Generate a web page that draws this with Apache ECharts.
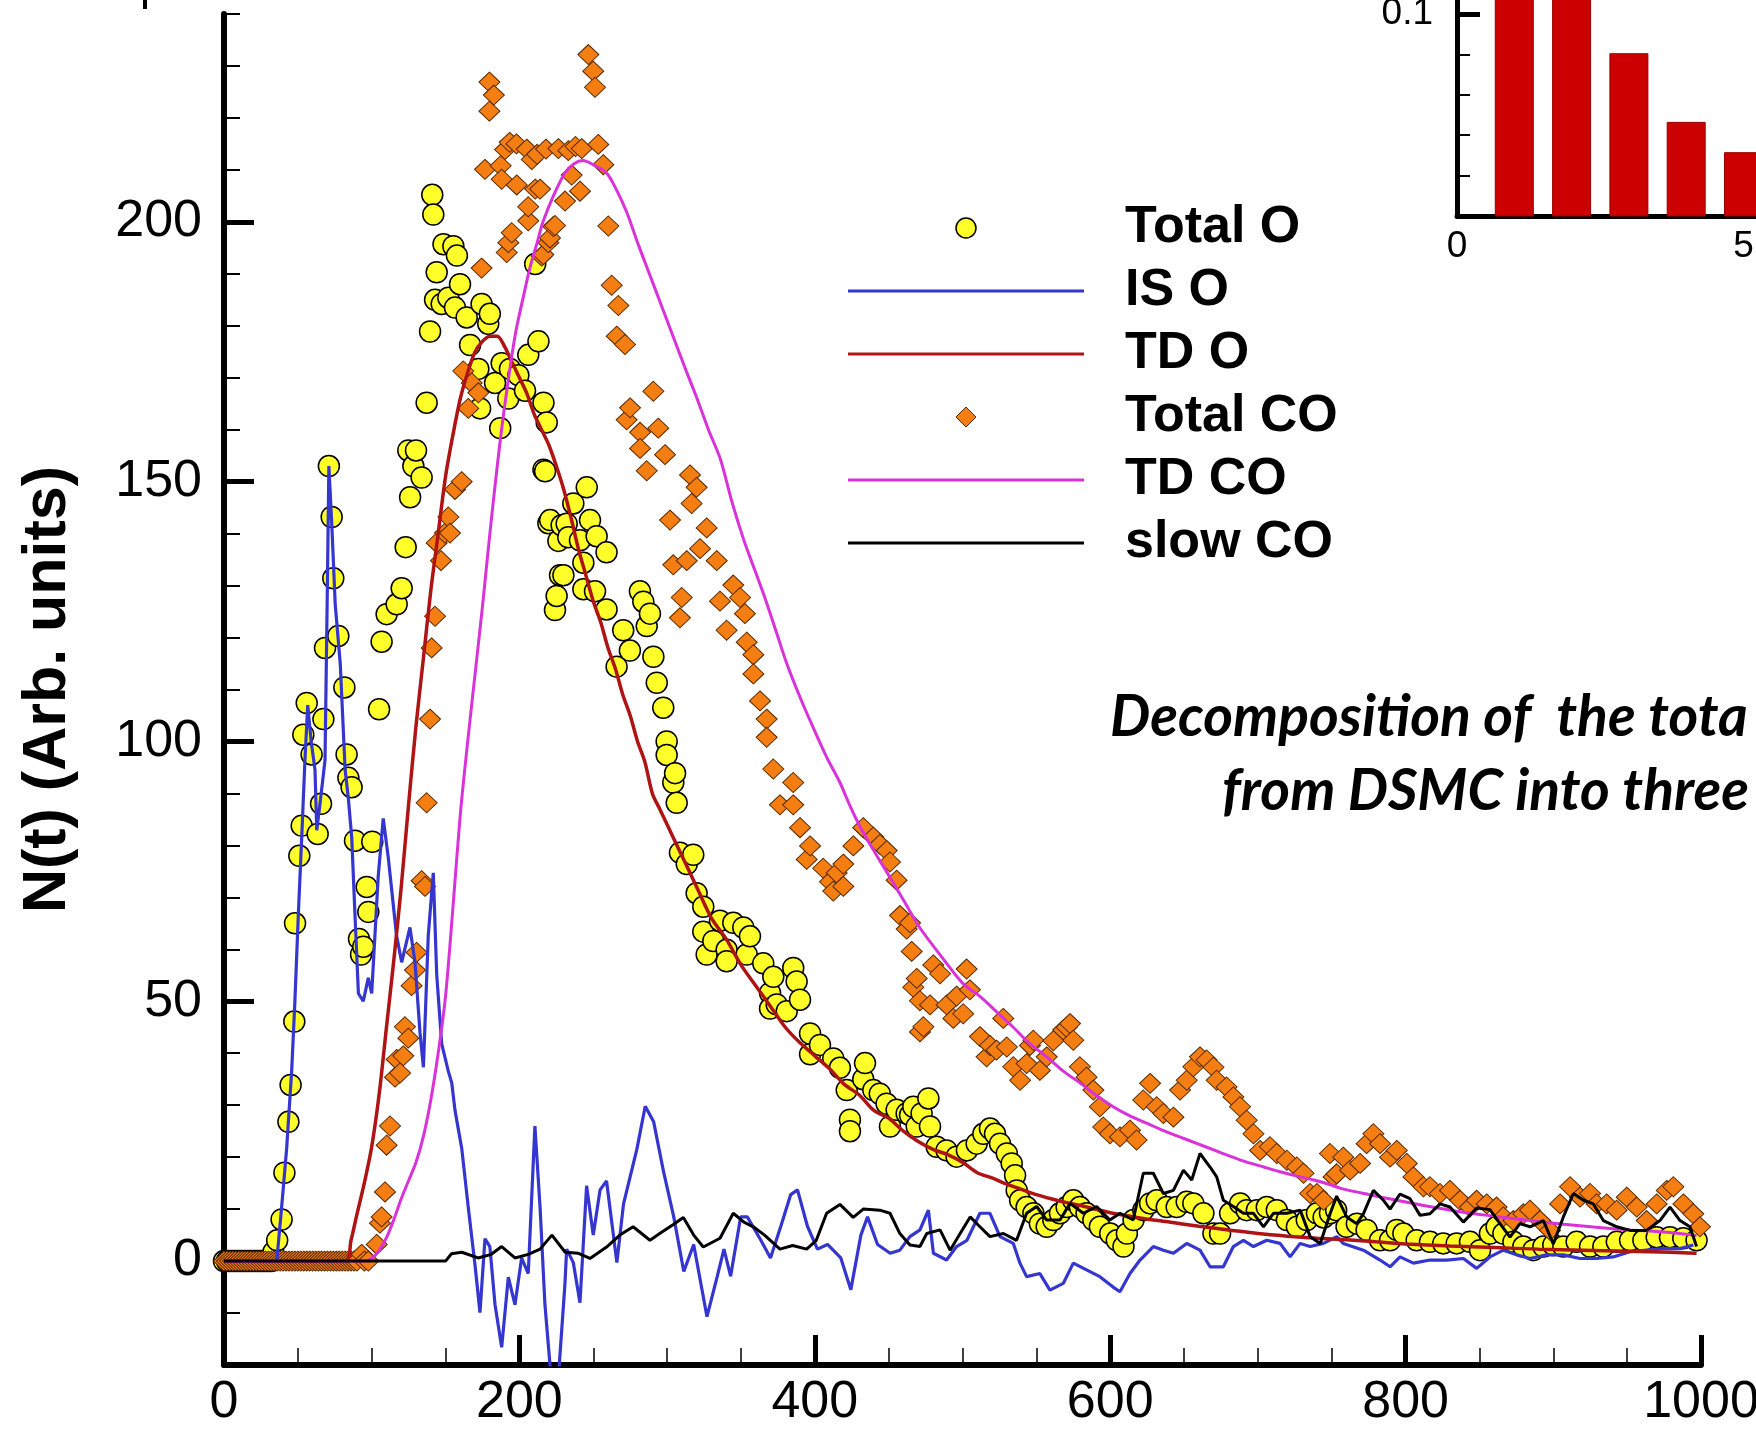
<!DOCTYPE html>
<html>
<head>
<meta charset="utf-8">
<script src="https://cdn.jsdelivr.net/npm/echarts@6/dist/echarts.min.js"></script>
<style>
html,body{margin:0;padding:0;background:#fff;}
#chart{width:1756px;height:1429px;}
</style>
</head>
<body>
<div id="chart"></div>
<script>
// ---------- tick values ----------
var xMajorTicks = [0, 200, 400, 600, 800, 1000];
var yMajorTicks = [0, 50, 100, 150, 200];
var insetYLabels = [0.1];
var legendNames = ['Total O', 'IS O', 'TD O', 'Total CO', 'TD CO', 'slow CO'];

// ---------- Total O (yellow circles) ----------
var totalO = [
[0,0],[2,0],[4,0],[6,0],[8,0],[10,0],[12,0],[14,0],[16,0],[18,0],[20,0],[22,0],[24,0],[26,0],[28,0],[30,0],[32,0],
[33.4,1.7],[36,4],[39,8],[40.9,17],[43.6,26.8],[45.1,33.9],[47.6,46.1],[48.1,65],[51,78],[52.6,83.8],[53.7,101.3],
[56,107.4],[59.3,97.5],[63.4,82.2],[65.7,88],[67.3,104.3],[68.4,118],[71,153],[72.9,143.2],[74,131.4],[77.4,120.3],
[81.5,110.4],[83,97.5],[84.2,93],[86.4,91.2],[88.7,80.9],[91.4,62],[92.8,59],[94.3,60.5],[96.6,72],[97.7,67.2],
[100.4,80.7],[105,106.2],[106.7,119.2],[110.1,124.5],[116.9,126.4],[120.3,129.5],[123,137.4],[124.8,156],[126,147],
[128.2,153],[130,156],[133.8,150.8],[137.2,165.2],[139.5,178.9],[141,205.2],[141.7,201.4],[142.9,185],[144,190.3],
[147.4,184.2],[148.6,195.7],[151.9,185.4],[155.3,195.3],[156.4,183.5],[157.7,193.5],[159.8,188],[164.3,181.6],
[166.6,176.3],[172.2,171.7],[173.4,164.1],[174.4,184.2],[178.9,180.4],[180,182.3],[183.5,169],[187,160.3],[188,172.8],
[192.5,166],[193.6,171.7],[199.3,170.5],[203.8,167.5],[206,174.4],[210.7,191.9],[212.9,177],[216.3,165.2],[216.3,152.3],
[217.4,152],[218.5,161.4],[219.6,142],[220.8,142.6],[224.1,125.3],[225.2,128],[226.4,138.6],[227.5,132],[228.6,141.6],
[229.8,132],[232,141.9],[233.1,139.3],[236.5,145.8],[241,138.7],[243.3,134.4],[243.3,129.3],[245.6,148.9],[247.8,142.6],
[251.2,128.9],[252.3,139.5],[259,136.4],[259,125.4],[265.8,114.4],[270.3,121.4],[274.8,117.5],[281.6,128.9],[283.9,126.9],
[286.2,122.2],[288.4,124.6],[290.7,116.3],[293,111.3],[297.4,106.5],[299.7,100],[299.7,97.4],[304.2,92.1],[305.4,93.9],
[306.5,88.2],[308.7,78.6],[313.3,76.4],[317.7,78.2],[320,70.8],[324.5,68.2],[324.5,63.4],[326.8,59],[331.3,61.6],
[335.8,65.5],[340.3,59.9],[340.3,57.7],[344.8,65.1],[351.6,64.2],[353.9,59],[356.1,62.5],[365.1,57.3],[369.7,51.6],
[369.7,48.6],[371.9,54.7],[374.2,49.4],[381,48.1],[385.4,56.4],[387.7,53.8],[390,50.3],[396.8,43.8],[396.8,39.8],
[403.5,41.6],[412.5,39],[417,37.2],[421.6,32.9],[423.8,27.2],[423.8,25],[432.8,35],[434,38.1],[439.6,32.9],[444,32.2],
[448.6,30.3],[450.9,25.9],[455.4,29.1],[462.2,28.4],[464.5,28.1],[466.7,29.7],[469,25.9],[472.3,28.4],[476.9,31.3],
[478,25.9],[482.5,22],[489.2,21.3],[496,20.1],[503,21.3],[509.6,22.6],[514.1,24.5],[518.6,25.5],[522,24.5],[525.4,22.6],
[530,20.7],[533.3,18.8],[535.6,16.5],[536.7,13.6],[539,11.7],[543.4,10.4],[548,9.2],[552.4,7.2],[557,6.6],[561.5,7.9],
[566,9.2],[570.5,10.4],[575,11.7],[579.5,10.4],[584,9.2],[588.6,7.9],[593,6.6],[600,5.3],[604.5,4],[609,2.8],[611.3,5.3],
[615.8,7.9],[622.4,9.8],[627,11.1],[631.5,11.7],[638.3,10.4],[645,10.4],[651.8,11.4],[656.3,11.1],[663.1,9.2],[669.9,5.3],
[674.4,5.3],[681.2,9.2],[688,11.1],[692.4,9.8],[699.3,9.8],[706,10.4],[712.8,9.8],[719.6,7.9],[726.4,6.6],[733.1,7.9],
[740,9.2],[744.5,8.4],[748.8,9.2],[753,9.8],[760,6.6],[767,7.2],[773.6,6],[782.7,4],[789.5,4],[794,6],[798.5,5.3],
[807.5,4],[816.5,3.7],[825.5,3.4],[834.6,3.4],[843.6,3.7],[850.4,2.1],[857.1,5.3],[861.6,6.6],[866.2,5.3],[873,3.7],
[879.7,2.8],[886.5,2.1],[893.3,2.8],[900,3.1],[906.8,2.8],[915.8,3.7],[924.9,2.8],[933.9,2.8],[943,3.7],[952,4],[961,4],
[970,4.6],[979,4.6],[988,4.4],[997,4]
];

// ---------- Total CO (orange diamonds) ----------
var totalCO = [
[0,0],[2,0],[4,0],[6,0],[8,0],[10,0],[12,0],[14,0],[16,0],[18,0],[20,0],[22,0],[24,0],[26,0],[28,0],[30,0],[32,0],
[34,0],[36,0],[38,0],[40,0],[42,0],[44,0],[46,0],[48,0],[50,0],[52,0],[54,0],[56,0],[58,0],[60,0],[62,0],[64,0],[66,0],
[68,0],[70,0],[72,0],[74,0],[76,0],[78,0],[80,0],[82,0],[84,0],[86,0],[88,0],[90,0],[93.2,1.3],[95,0],[97.7,0],
[103.4,3.2],[105.6,7.3],[106.7,8.5],[109,13.3],[110.1,22.3],[112.4,26],[115.8,35.4],[116.9,38.8],[119.2,36.2],[121.4,39.5],
[122.5,45.1],[124.8,42.9],[127,53],[129.3,56],[130.4,59.4],[133.8,73.2],[136.1,72.1],[137.2,88.2],[139.5,104.3],[140.6,118],
[142.9,124.1],[144,138.2],[146.9,134.8],[149.6,140.1],[151.9,143.2],[153,140.1],[156.4,148.5],[160.9,150],[162,171.3],
[165.4,164.1],[167.7,169],[172.2,167.1],[174.4,191.1],[176.7,210.1],[179.7,226.9],[179.7,221.3],[182.7,224.4],[187.3,210.8],
[188,208.2],[190.3,213.9],[191.4,194.1],[192.5,196],[193.4,215.3],[194.8,197.9],[198.2,207.1],[198,215],[205,214],[206,200.2],
[206,202.9],[208.4,212],[210.7,206.3],[212,213],[214,206.3],[215.1,193.4],[216.2,193.7],[218,214],[219.6,196],[220.7,196.9],
[223,199.1],[224.1,199.3],[226.4,214.1],[230.9,204],[233.1,213.7],[235.4,209],[238,214.5],[241,205.9],[242.2,214.1],
[246.7,232.2],[250,229],[251.2,225.9],[253.4,214.9],[256.8,211],[260.2,199.2],[262.5,187.8],[265.9,178],[267,183.9],
[271.5,176.4],[272.6,161.9],[274.9,164.2],[281.7,159.5],[281.7,156.4],[286.2,152.1],[290.7,167.4],[294,160.3],[298.6,155.2],
[302,142.6],[304.2,134],[308.7,123.8],[309.9,127.7],[313.3,134.8],[315.5,151.3],[316.6,145.8],[320,148.9],[322.3,137.1],
[326.8,141.1],[333.6,134.8],[335.8,127],[340.3,121.4],[344.8,130.1],[349.4,127.7],[352.7,124.6],[353.9,119.1],[358.4,116.7],
[358.4,113],[362.9,107.8],[367.4,104.3],[367.4,100.8],[371.9,94.7],[376.4,87.8],[385.4,92.1],[385.4,87.8],[390,83.4],
[394.5,77.3],[396.8,79.9],[405.7,75.6],[410.3,73],[412.5,71.2],[414.8,74.7],[419.3,76.4],[419.3,72.1],[426.1,79.9],
[432.8,83.4],[439.6,81.6],[444.1,80.2],[448.7,79],[450.9,76.8],[455.4,73.3],[457.7,66.5],[462.2,63.9],[464.5,65.1],
[465.6,59.6],[466.7,52.7],[469,54.4],[471.2,50.1],[471.2,44.1],[473.5,45.1],[478,49.3],[480.2,57],[484.8,55.3],[489.3,49.3],
[493.8,46.7],[496,51],[500.5,47.6],[502.8,56.2],[505,52.2],[511.8,43.2],[516.3,39.3],[518.6,41.5],[523,40.6],[527.6,46.7],
[530,41.2],[534.4,37.4],[539,34.8],[543.4,38],[545.7,41.5],[548,42.5],[552.4,36.7],[557,39.3],[561.5,42.4],[568.2,44.5],
[570.5,45],[572.8,45.7],[575,42.5],[579.5,37.4],[584,35.4],[588.6,32.9],[593,29.7],[595.3,25.8],[599.8,24.5],[606.6,23.9],
[613.4,25.2],[617.9,23.3],[622.4,31],[627,34.2],[631.5,29.7],[636,28.4],[642.8,27.7],[647.3,32.9],[651.8,34.8],[656.3,37.4],
[660.8,39.3],[665.3,38.7],[669.9,37.3],[672.1,34.8],[678.8,33.5],[683.4,31.6],[687.9,29.7],[692.4,27.1],[697,24.5],
[701.5,21.3],[708.2,22],[712.8,20.7],[719.6,19.4],[726.4,18.1],[730.9,16.9],[735.4,13],[740,13],[744.4,11.7],[748.8,20.7],
[751.2,16.2],[753.3,16.8],[757.8,20],[762.4,17.5],[769.2,18.8],[773.6,22.6],[778.2,24.5],[782.7,22.6],[789.5,20],[794,21.3],
[800.8,18.8],[805.3,16.2],[812.1,14.3],[816.5,14.3],[823.3,13],[830,13.6],[836.9,11.7],[843.6,10.4],[848.1,11.7],[854.9,11],
[861.6,10.4],[866.2,8.5],[873,7.8],[879.7,9.1],[884.2,9.8],[891,7.8],[897.8,5.9],[904.6,11],[911.4,14.3],[918.1,12.3],
[924.9,13],[929.3,11],[936.1,11],[942.9,9.8],[949.7,12.3],[956.5,10.4],[963.2,7.8],[970,11],[976.8,13.6],[981.3,14.3],
[988.1,11],[994.8,9.1],[999.3,6.6]
];

// ---------- IS O (blue line) ----------
var isO = [
[0,0],[30,0],[35.7,0],[39,10.3],[42.4,21.6],[45.8,36.5],[48,50],[50.3,66.5],[52.6,81.4],[54.8,96.4],[56.7,107],[59,100],
[61.6,94.6],[62.8,82.9],[65,88],[68.4,96.4],[70,130],[71,153],[73,141.6],[75.3,126.4],[78.7,115],[82,94.6],[84.2,89],
[86.5,81.4],[88.7,66.5],[91,51.5],[94.3,50],[97.7,54.5],[100,51.5],[104.4,74],[107.8,85.2],[111.2,77.7],[116.8,62.7],
[120.3,57.5],[125.9,64.2],[129.3,57.5],[132.7,44],[135,37.3],[138.3,62.7],[141.7,74.7],[144,55.2],[147.4,41.8],[151.9,36.5],
[154.2,34.3],[156.4,29],[161,21.6],[165.4,10.3],[170,-0.9],[173.3,-9.9],[176.7,4.3],[180,2.8],[183.5,-8.4],[188,-16.6],
[192.5,-3.1],[197,-8.4],[201.5,0.6],[206,-2.4],[210.5,26],[214,10.3],[217.3,-8.4],[221.9,-24],[226,-24],[230.8,-4.6],
[232,2.3],[236.5,-0.3],[241,-8],[245.5,14.5],[250,5],[254.6,13.7],[259,15.4],[266,-0.3],[270.5,11],[279.5,21.5],[285.2,29.8],
[290.9,26.8],[297.6,17.2],[304.5,8.5],[311.3,-2],[318,3.2],[327,-10.7],[334,-2.9],[338.5,2.3],[343,-2.9],[349.8,8.5],
[354.3,8.5],[363.3,4.1],[370,0.6],[377,6.7],[383.7,12.8],[388.3,13.7],[395,6.7],[401.8,2.3],[408.6,3.2],[417.6,0.6],
[424.4,-5.5],[431.2,5],[435.7,8.5],[442.5,3.2],[451,1.5],[457.6,2.1],[464.4,4.7],[471.2,6],[476.9,9.8],[480.3,1.5],
[489.2,0.2],[496,2.8],[503,4],[511.8,9.2],[518.6,9.2],[525.4,4.7],[534.4,3.4],[538.9,-0.4],[543.4,-3],[552.4,-2.4],
[559.2,-5.6],[568.2,-4.3],[575,-0.4],[584,-1.7],[593,-3],[602,-5],[606.6,-5.9],[613.4,-2.4],[620.2,0.2],[629.2,2.8],
[636,2.1],[642.8,1.5],[651.8,3.4],[660.8,2.1],[667.6,-1.1],[676.6,-1.1],[683.4,2.8],[690.2,4],[697,2.8],[706,4],[715,3.4],
[721.8,0.8],[728.6,3.4],[735.4,2.8],[744.4,3.4],[753.4,4.7],[757.8,3.4],[771.4,2.1],[782.7,0.2],[789.5,-1.1],[796.2,0.8],
[805.3,-0.4],[816.5,0.2],[827.8,0.2],[839.1,0.5],[848.1,-1.4],[857.1,0.8],[866.2,2.1],[875.2,1.2],[884.2,0.5],[895.5,1.2],
[906.8,1.2],[918.1,0.5],[929.3,0.5],[940.6,0.8],[951.9,1.8],[963.2,2.1],[974.5,2.4],[985.8,2.4],[994.8,3.1]
];

// ---------- TD O (dark red curve) ----------
var tdO = [
[0,0],[82,0],[86,4],[90,9],[95,15],[100,22],[105,32],[110,45],[115,58],[120,72],[125,88],[130,103],[135,116],[140,129],
[145,140],[150,151],[155,159],[160,166],[165,171],[170,175],[175,177],[180,178],[185,178],[190,176],[195,173],[200,170],
[205,167],[210,163],[215,160],[220,157],[225,153],[230,148.5],[235,143],[240,137],[245,132],[250,127],[255,123],[260,118],
[265,114],[270,109],[275,105],[280,100],[285,96],[290,90],[295,87],[300,84],[310,78],[320,72],[330,66],[340,62],[350,57],
[360,53],[370,49],[380,45],[390,42],[400,39.5],[410,37],[420,34],[430,32],[440,29],[450,27.5],[460,25],[470,23],[480,21.5],
[490,20.5],[500,19],[510,17],[520,16],[530,14.8],[540,13.8],[550,12.8],[560,12],[570,11.3],[580,10.7],[590,10],[600,9.3],
[620,8.3],[640,7.5],[660,6.7],[680,6],[700,5.3],[720,4.8],[740,4.4],[760,4.1],[780,3.7],[800,3.3],[830,2.9],[860,2.6],
[890,2.3],[920,2.1],[950,1.9],[980,1.7],[997,1.5]
];

// ---------- TD CO (magenta curve) ----------
var tdCO = [
[0,0],[95,0],[100,0.5],[105,2],[110,4.5],[115,8],[120,12],[125,15.5],[130,19],[135,24],[140,31],[145,40],[150,51],[155,68],
[160,86],[165,100],[170,113],[175,126],[180,140],[185,153],[190,164.5],[197,178],[203,186],[207,191],[212,196],[216,200],
[223,205],[231,209.5],[237,211.2],[243,211.8],[250,211],[259,209.4],[266,206],[273,201.6],[280,196],[288,190],[296,184],
[304,178],[312,172],[320,166.2],[328,160],[336,154.4],[344,146],[352,138.7],[360,132.5],[367,127],[374,121],[381,115],
[390,108.5],[399,102.6],[408,97],[417,92.1],[424,87.5],[431,83.4],[441,78.5],[451,73.8],[461,69],[471,64.2],[486,58.5],
[500,53.5],[512,50.9],[523,48],[534,45.1],[545,42],[557,39.3],[568,36.6],[580,34.2],[591,31.8],[602,29.7],[613,28],
[625,26.5],[636,25.1],[647,23.9],[659,22.6],[670,21.4],[681,20.2],[692,19.1],[704,18.1],[715,17.2],[726,16.4],[738,15.6],
[749,14.7],[756,14],[775,12.8],[794,11.7],[816,10.5],[839,9.4],[861,8.6],[884,7.8],[907,7.1],[929,6.5],[952,6],[975,5.6],
[997,4.9]
];

// ---------- slow CO (black line) ----------
var slowCO = [
[0,0],[150,0],[154,1.4],[161,1.7],[172,0.6],[181,1.3],[188,2.8],[197,0.6],[206,1.3],[214,2.3],[222,5],[231,1.7],
[240,1.5],[247.8,0.5],[259,2.7],[268,5],[277,6.6],[288.4,4],[296,5.5],[304,7],[311,8.4],[318,5],[324.5,2.7],[335.8,4.4],
[344.8,9.2],[352,7.5],[358.4,6.6],[366,5],[376.4,2.3],[385,3],[394.5,2.3],[401,4],[408,9.2],[417,10.9],[426,8.4],
[432.8,10],[444,9.8],[450.9,9.2],[457.6,5.3],[464.4,3.1],[471.2,2.8],[475.8,5.3],[484.8,6],[491.6,2.1],[498.4,5.3],
[505.2,8.5],[511.8,6.6],[518.6,4.7],[527.7,5.3],[536.6,4],[543.4,9.2],[550.2,10.5],[557,7.9],[566,7.9],[572.8,11.1],
[581.8,9.2],[590.8,10.5],[599.8,7.9],[606.6,9.2],[615.6,7.9],[622.4,16.9],[629.2,16.9],[636,13],[642.8,13.6],[649.6,17.5],
[655.2,15.6],[660.8,20.7],[667.6,18.1],[672.1,16.2],[676.6,11.7],[683.4,10.5],[690.2,9.2],[697,9.2],[703.8,6.6],[710.5,9.2],
[719.6,9.2],[728.6,9.8],[735.4,4.7],[742.2,3.4],[749,9.2],[753.3,12.5],[760.1,8.5],[766.9,7.2],[771.4,9.1],[778.2,13.6],
[785,11.7],[789.5,10],[796.2,12.9],[803,12],[809.8,8.8],[816.5,9.1],[823.3,11],[830,10.4],[839.1,7.5],[848.1,10.2],
[857.1,9.9],[863.9,7.2],[870.7,4.6],[877.4,7.2],[884.2,6.6],[893.3,7.8],[900,3.3],[906.8,8.5],[913.6,13],[920.4,11.7],
[927.1,11],[933.9,7.8],[943,6.6],[952,5.9],[963.2,5.9],[972.2,7.8],[979,10.4],[985.8,7.8],[992.5,6.6],[997,2.8]
];

// ---------- inset bars ----------
var insetBars = [[1,0.16],[2,0.125],[3,0.0903],[4,0.0733],[5,0.0658],[6,0.06],[7,0.056]];

var FONT = 'Liberation Sans, Arial, Helvetica, sans-serif';
var LINE_ICON = 'path://M0,0H236V3H0Z';
var DIAMOND_ICON = 'path://M10,0L20,10L10,20L0,10Z';
var C_BLUE = '#3535D0', C_RED = '#AE1414', C_MAG = '#DA32DA', C_BLACK = '#000000';
var C_YEL = '#FFFF2A', C_ORG = '#F57E12';

var chart = echarts.init(document.getElementById('chart'), null, {renderer: 'canvas'});

var option = {
  animation: false,
  backgroundColor: '#ffffff',
  grid: [
    {left: 224, top: 14, width: 1477, height: 1351, containLabel: false, outerBoundsMode: 'none'},
    {left: 1457, top: -188, width: 573, height: 404, containLabel: false, outerBoundsMode: 'none'}
  ],
  xAxis: [
    {
      gridIndex: 0, type: 'value', min: 0, max: 1000, interval: 200,
      axisLine: {show: true, onZero: false, lineStyle: {color: '#000', width: 6}},
      axisTick: {show: true, inside: true, length: 30, lineStyle: {color: '#000', width: 5}},
      minorTick: {show: true, splitNumber: 4, length: 17, lineStyle: {color: '#000', width: 1.5}},
      axisLabel: {show: true, margin: 12, fontSize: 52, fontFamily: FONT, color: '#000',
                  formatter: function (v) { return String(v); }},
      splitLine: {show: false}, minorSplitLine: {show: false}
    },
    {
      gridIndex: 1, type: 'value', min: 0, max: 10, interval: 5,
      axisLine: {show: true, onZero: false, lineStyle: {color: '#000', width: 5}},
      axisTick: {show: true, inside: true, length: 25, lineStyle: {color: '#000', width: 4}},
      minorTick: {show: true, splitNumber: 5, length: 14, lineStyle: {color: '#000', width: 2}},
      axisLabel: {show: true, margin: 12, fontSize: 37, fontFamily: FONT, color: '#000',
                  formatter: function (v) { return String(v); }},
      splitLine: {show: false}
    }
  ],
  yAxis: [
    {
      gridIndex: 0, type: 'value', min: -20, max: 240, interval: 10,
      name: 'N(t) (Arb. units)', nameLocation: 'middle', nameGap: 145, nameRotate: 90,
      nameTextStyle: {fontSize: 61, fontWeight: 'bold', fontFamily: FONT, color: '#000'},
      axisLine: {show: true, onZero: false, lineStyle: {color: '#000', width: 6}},
      axisTick: {show: true, inside: true, length: 16, lineStyle: {color: '#000', width: 2}},
      axisLabel: {show: false},
      splitLine: {show: false}
    },
    {
      gridIndex: 0, type: 'value', min: -20, max: 240, position: 'left',
      axisLine: {show: false},
      axisTick: {show: true, inside: true, length: 30, customValues: yMajorTicks, lineStyle: {color: '#000', width: 5}},
      axisLabel: {show: true, margin: 22, customValues: yMajorTicks, fontSize: 52, fontFamily: FONT, color: '#000'},
      splitLine: {show: false}
    },
    {
      gridIndex: 1, type: 'value', min: 0.05, max: 0.15, interval: 0.01,
      axisLine: {show: true, onZero: false, lineStyle: {color: '#000', width: 5}},
      axisTick: {show: true, inside: true, length: 13, lineStyle: {color: '#000', width: 2}},
      axisLabel: {show: false},
      splitLine: {show: false}
    },
    {
      gridIndex: 1, type: 'value', min: 0.05, max: 0.15, position: 'left',
      axisLine: {show: false},
      axisTick: {show: true, inside: true, length: 23, customValues: insetYLabels, lineStyle: {color: '#000', width: 5}},
      axisLabel: {show: true, margin: 24, customValues: insetYLabels, fontSize: 37, fontFamily: FONT, color: '#000'},
      splitLine: {show: false}
    }
  ],
  legend: {
    show: true, orient: 'vertical', left: 848, top: 202, padding: 0,
    itemWidth: 236, itemHeight: 20, itemGap: 11, selectedMode: false, symbolKeepAspect: true,
    data: [
      {name: legendNames[0], icon: 'circle', itemStyle: {color: C_YEL, borderColor: '#000', borderWidth: 1.5}},
      {name: legendNames[1], icon: LINE_ICON, itemStyle: {color: C_BLUE, borderWidth: 0}},
      {name: legendNames[2], icon: LINE_ICON, itemStyle: {color: C_RED, borderWidth: 0}},
      {name: legendNames[3], icon: DIAMOND_ICON, itemStyle: {color: C_ORG, borderColor: '#5a2a00', borderWidth: 1}},
      {name: legendNames[4], icon: LINE_ICON, itemStyle: {color: C_MAG, borderWidth: 0}},
      {name: legendNames[5], icon: LINE_ICON, itemStyle: {color: C_BLACK, borderWidth: 0}}
    ],
    textStyle: {fontSize: 52, fontWeight: 'bold', fontFamily: FONT, color: '#000', lineHeight: 52, padding: [0, 0, 0, 36]}
  },
  graphic: [
    {type: 'text', x: 1110, y: 718, silent: true,
     style: {text: 'Decomposition of  the tota', font: 'italic bold 57px Lato, "Open Sans", sans-serif', fill: '#000', verticalAlign: 'middle', align: 'left'}},
    {type: 'text', x: 1222, y: 792, silent: true,
     style: {text: 'from DSMC into three', font: 'italic bold 57px Lato, "Open Sans", sans-serif', fill: '#000', verticalAlign: 'middle', align: 'left'}},
    {type: 'rect', silent: true, shape: {x: 143, y: 0, width: 4, height: 9}, style: {fill: '#000'}}
  ],
  series: [
    {
      name: 'Total O', type: 'scatter', xAxisIndex: 0, yAxisIndex: 0, data: totalO,
      symbol: 'circle', symbolSize: 21,
      itemStyle: {color: C_YEL, borderColor: '#000', borderWidth: 1.5, opacity: 1},
      emphasis: {disabled: true}, z: 2
    },
    {
      name: 'Total CO', type: 'scatter', xAxisIndex: 0, yAxisIndex: 0, data: totalCO,
      symbol: 'diamond', symbolSize: [21, 20],
      itemStyle: {color: C_ORG, borderColor: '#5a2a00', borderWidth: 1, opacity: 1},
      emphasis: {disabled: true}, z: 3
    },
    {
      name: 'IS O', type: 'line', xAxisIndex: 0, yAxisIndex: 0, data: isO,
      symbol: 'none', showSymbol: false, clip: true,
      lineStyle: {color: C_BLUE, width: 3.2}, itemStyle: {color: C_BLUE},
      emphasis: {disabled: true}, z: 4
    },
    {
      name: 'TD O', type: 'line', xAxisIndex: 0, yAxisIndex: 0, data: tdO,
      symbol: 'none', showSymbol: false, smooth: 0.3, clip: true,
      lineStyle: {color: C_RED, width: 3.5}, itemStyle: {color: C_RED},
      emphasis: {disabled: true}, z: 5
    },
    {
      name: 'TD CO', type: 'line', xAxisIndex: 0, yAxisIndex: 0, data: tdCO,
      symbol: 'none', showSymbol: false, smooth: 0.3, clip: true,
      lineStyle: {color: C_MAG, width: 3}, itemStyle: {color: C_MAG},
      emphasis: {disabled: true}, z: 5
    },
    {
      name: 'slow CO', type: 'line', xAxisIndex: 0, yAxisIndex: 0, data: slowCO,
      symbol: 'none', showSymbol: false, clip: true,
      lineStyle: {color: C_BLACK, width: 3}, itemStyle: {color: C_BLACK},
      emphasis: {disabled: true}, z: 6
    },
    {
      name: 'inset', type: 'bar', xAxisIndex: 1, yAxisIndex: 2, data: insetBars,
      barWidth: 39, clip: true,
      itemStyle: {color: '#CC0000', borderColor: '#9a0000', borderWidth: 1},
      emphasis: {disabled: true}
    }
  ]
};
chart.setOption(option);
</script>
</body>
</html>
